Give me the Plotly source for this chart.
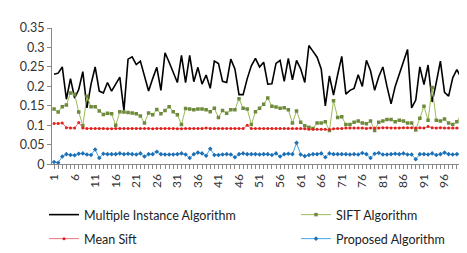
import plotly.graph_objects as go

categories = list(range(1, 101))
tick_labels = [str(c) if (c - 1) % 5 == 0 else "" for c in categories]

multiple_instance = [
    0.231, 0.234, 0.250, 0.167, 0.220, 0.170, 0.192, 0.238, 0.145, 0.206,
    0.250, 0.188, 0.183, 0.210, 0.188, 0.205, 0.224, 0.138, 0.270, 0.276,
    0.256, 0.265, 0.228, 0.188, 0.220, 0.249, 0.190, 0.286, 0.262, 0.235,
    0.210, 0.280, 0.210, 0.280, 0.212, 0.249, 0.206, 0.229, 0.195, 0.265,
    0.259, 0.213, 0.210, 0.270, 0.245, 0.179, 0.179, 0.220, 0.253, 0.272,
    0.250, 0.262, 0.206, 0.207, 0.259, 0.267, 0.213, 0.272, 0.217, 0.267,
    0.245, 0.210, 0.305, 0.290, 0.275, 0.245, 0.150, 0.227, 0.178, 0.230,
    0.277, 0.180, 0.190, 0.195, 0.230, 0.200, 0.267, 0.240, 0.190, 0.225,
    0.250, 0.200, 0.155, 0.200, 0.230, 0.265, 0.295, 0.145, 0.165, 0.250,
    0.205, 0.255, 0.160, 0.210, 0.265, 0.185, 0.175, 0.222, 0.243, 0.223,
]

sift = [
    0.142, 0.134, 0.148, 0.152, 0.183, 0.180, 0.134, 0.099, 0.175, 0.148,
    0.148, 0.137, 0.128, 0.131, 0.130, 0.100, 0.135, 0.134, 0.133, 0.132,
    0.130, 0.124, 0.106, 0.132, 0.127, 0.141, 0.130, 0.138, 0.148, 0.135,
    0.127, 0.102, 0.143, 0.142, 0.140, 0.142, 0.142, 0.140, 0.135, 0.144,
    0.120, 0.138, 0.131, 0.140, 0.140, 0.168, 0.144, 0.142, 0.102, 0.135,
    0.144, 0.154, 0.170, 0.149, 0.147, 0.144, 0.145, 0.140, 0.106, 0.137,
    0.108, 0.099, 0.095, 0.092, 0.106, 0.106, 0.109, 0.087, 0.163, 0.120,
    0.122, 0.102, 0.102, 0.108, 0.111, 0.106, 0.104, 0.111, 0.087, 0.108,
    0.111, 0.115, 0.115, 0.109, 0.113, 0.111, 0.106, 0.106, 0.088, 0.118,
    0.149, 0.113, 0.197, 0.113, 0.111, 0.116, 0.106, 0.102, 0.109, 0.127,
]

mean_sift = [
    0.105, 0.105, 0.106, 0.094, 0.093, 0.093, 0.107, 0.093, 0.092, 0.092,
    0.092, 0.092, 0.092, 0.091, 0.091, 0.092, 0.092, 0.092, 0.092, 0.092,
    0.092, 0.092, 0.092, 0.092, 0.091, 0.092, 0.092, 0.092, 0.092, 0.092,
    0.091, 0.091, 0.092, 0.092, 0.092, 0.092, 0.092, 0.093, 0.092, 0.092,
    0.092, 0.092, 0.092, 0.092, 0.092, 0.092, 0.092, 0.100, 0.092, 0.092,
    0.092, 0.092, 0.092, 0.092, 0.092, 0.092, 0.092, 0.092, 0.092, 0.092,
    0.092, 0.091, 0.090, 0.090, 0.090, 0.090, 0.090, 0.089, 0.091, 0.092,
    0.092, 0.093, 0.093, 0.093, 0.093, 0.093, 0.092, 0.093, 0.093, 0.093,
    0.094, 0.094, 0.093, 0.093, 0.093, 0.094, 0.094, 0.094, 0.093, 0.094,
    0.093, 0.097, 0.094, 0.093, 0.094, 0.093, 0.093, 0.093, 0.093, 0.093,
]

proposed = [
    0.006, 0.004, 0.020, 0.026, 0.024, 0.023, 0.027, 0.028, 0.025, 0.024,
    0.038, 0.016, 0.027, 0.026, 0.026, 0.026, 0.028, 0.026, 0.027, 0.026,
    0.025, 0.028, 0.020, 0.026, 0.026, 0.032, 0.026, 0.025, 0.025, 0.025,
    0.026, 0.028, 0.025, 0.016, 0.026, 0.030, 0.028, 0.022, 0.040, 0.024,
    0.024, 0.025, 0.026, 0.025, 0.018, 0.026, 0.028, 0.026, 0.026, 0.026,
    0.025, 0.026, 0.026, 0.024, 0.028, 0.020, 0.026, 0.027, 0.026, 0.055,
    0.025, 0.021, 0.024, 0.026, 0.026, 0.028, 0.018, 0.028, 0.026, 0.026,
    0.026, 0.026, 0.025, 0.026, 0.025, 0.029, 0.026, 0.016, 0.027, 0.029,
    0.025, 0.025, 0.026, 0.027, 0.026, 0.028, 0.025, 0.025, 0.013, 0.026,
    0.026, 0.025, 0.028, 0.024, 0.026, 0.030, 0.026, 0.025, 0.026, 0.026,
]

font_family = "Lato, 'Open Sans', sans-serif"

fig = go.Figure()
fig.add_trace(go.Scatter(
    x=categories, y=multiple_instance, name="Multiple Instance Algorithm",
    mode="lines", line=dict(color="#000000", width=1.6), legend="legend"))
fig.add_trace(go.Scatter(
    x=categories, y=sift, name="SIFT Algorithm",
    mode="lines+markers", line=dict(color="#9BBB59", width=1),
    marker=dict(symbol="square", size=3.5, color="#6E8B3D"), legend="legend2"))
fig.add_trace(go.Scatter(
    x=categories, y=mean_sift, name="Mean Sift",
    mode="lines+markers", line=dict(color="#E8747A", width=1),
    marker=dict(symbol="circle", size=3, color="#E0201B"), legend="legend3"))
fig.add_trace(go.Scatter(
    x=categories, y=proposed, name="Proposed Algorithm",
    mode="lines+markers", line=dict(color="#45A8E6", width=1),
    marker=dict(symbol="diamond", size=3.5, color="#1F6FB5"), legend="legend4"))

def legend_at(xpx, ypx):
    return dict(
        orientation="h", xref="container", yref="container",
        x=xpx / 467, y=(253 - ypx) / 253, xanchor="left", yanchor="middle",
        font=dict(family=font_family, size=12.5, color="#222222"),
        bgcolor="rgba(0,0,0,0)", itemwidth=30,
    )

fig.update_layout(
    width=467, height=253,
    margin=dict(l=43, r=12, t=13, b=77),
    paper_bgcolor="white", plot_bgcolor="white",
    font=dict(family=font_family, size=11, color="#333333"),
    showlegend=True,
    legend=legend_at(36, 207),
    legend2=legend_at(288, 207),
    legend3=legend_at(36, 231),
    legend4=legend_at(288, 231),
    xaxis=dict(
        range=[0.5, 100.5], tickmode="array", tickvals=categories,
        ticktext=tick_labels, tickangle=-90, ticks="outside", ticklen=4,
        tickcolor="#888888", showline=True, linecolor="#888888", linewidth=1,
        showgrid=False, zeroline=False,
        tickfont=dict(family=font_family, size=12, color="#333333"),
    ),
    yaxis=dict(
        range=[0, 0.35], tickmode="array",
        tickvals=[0, 0.05, 0.1, 0.15, 0.2, 0.25, 0.3, 0.35],
        ticktext=["0", "0.05", "0.1", "0.15", "0.2", "0.25", "0.3", "0.35"],
        ticks="outside", ticklen=4, tickcolor="#888888",
        showline=True, linecolor="#888888", linewidth=1,
        showgrid=False, zeroline=False,
        tickfont=dict(family=font_family, size=12.5, color="#333333"),
    ),
)

fig.write_html("out.html")
